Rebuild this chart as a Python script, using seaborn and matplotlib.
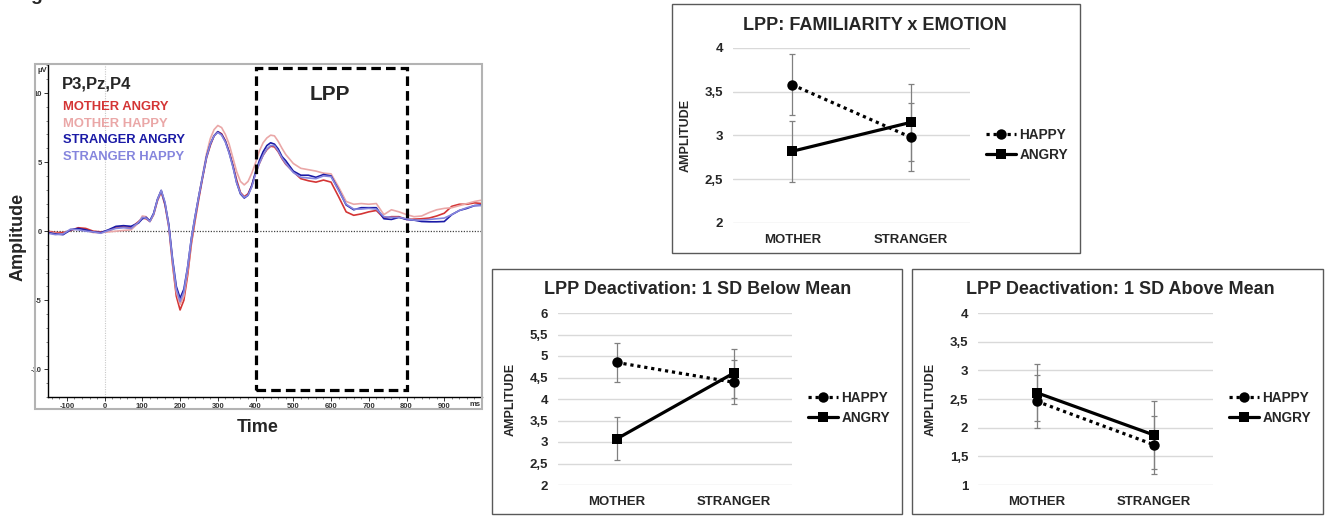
import matplotlib
matplotlib.use('Agg')
import matplotlib.pyplot as plt
from matplotlib.patches import Rectangle
from matplotlib.lines import Line2D
from matplotlib.ticker import MultipleLocator, FuncFormatter
import seaborn as sns
import pandas as pd

# ERP waveforms (P3, Pz, P4 average)
time_ms = ([-150, -130, -110, -90, -70, -50, -30, -10, 10, 30, 50, 70, 90]
           + list(range(100, 490, 10)) + list(range(500, 1010, 20)))

mother_angry = [0.0, -0.1, -0.1, 0.05, 0.25, 0.2, 0.0, -0.05, 0.0, 0.3, 0.3, 0.25, 0.7,
                0.95, 0.9, 0.7, 1.2, 2.2, 2.85, 1.9, 0.3, -2.4, -4.7,
                -5.7, -5.0, -3.2, -0.9, 0.8, 2.4, 3.9, 5.3, 6.2, 6.9,
                7.2, 7.05, 6.55, 5.75, 4.8, 3.7, 2.8, 2.5, 2.7, 3.3,
                4.2, 4.9, 5.5, 5.9, 6.15, 6.1, 5.75, 5.25, 4.85,
                4.3, 3.8, 3.65, 3.55, 3.7, 3.55, 2.5, 1.4, 1.15, 1.25, 1.4, 1.5, 0.95,
                1.05, 1.05, 0.85, 0.87, 0.9, 0.95, 1.1, 1.3, 1.8, 1.95, 1.95, 2.05, 2.0]
mother_happy = [-0.05, -0.15, -0.2, 0.1, 0.15, 0.05, -0.1, -0.1, -0.05, 0.0, 0.05, 0.1, 0.6,
                1.1, 1.05, 0.7, 1.25, 2.25, 2.9, 2.0, 0.4, -2.2, -4.4,
                -5.3, -4.7, -2.9, -0.7, 1.0, 2.6, 4.1, 5.6, 6.7, 7.35,
                7.65, 7.5, 7.0, 6.3, 5.3, 4.3, 3.6, 3.35, 3.6, 4.2,
                4.95, 5.8, 6.4, 6.75, 6.95, 6.9, 6.5, 6.0, 5.55,
                4.9, 4.55, 4.45, 4.35, 4.2, 4.15, 3.2, 2.15, 1.95, 2.0, 1.95, 2.0, 1.2,
                1.55, 1.4, 1.2, 1.05, 1.1, 1.35, 1.55, 1.65, 1.7, 1.85, 2.0, 2.15, 2.25]
stranger_angry = [-0.1, -0.2, -0.25, 0.1, 0.2, 0.1, -0.05, -0.1, 0.1, 0.35, 0.4, 0.35, 0.6,
                  0.9, 1.0, 0.75, 1.3, 2.3, 2.95, 2.0, 0.5, -2.0, -4.0,
                  -4.85, -4.2, -2.6, -0.5, 1.1, 2.6, 4.0, 5.4, 6.3, 6.9,
                  7.2, 7.0, 6.5, 5.7, 4.7, 3.5, 2.7, 2.4, 2.6, 3.3,
                  4.3, 5.1, 5.75, 6.2, 6.4, 6.3, 5.95, 5.4, 5.1,
                  4.35, 4.05, 4.05, 3.9, 4.1, 4.0, 3.0, 1.9, 1.55, 1.7, 1.7, 1.7, 0.9,
                  0.85, 1.0, 0.85, 0.8, 0.7, 0.68, 0.68, 0.7, 1.2, 1.5, 1.65, 1.85, 1.9]
stranger_happy = [-0.15, -0.25, -0.2, 0.15, 0.1, 0.0, -0.05, -0.15, 0.05, 0.2, 0.25, 0.2, 0.65,
                  1.0, 0.95, 0.7, 1.25, 2.3, 2.95, 2.1, 0.4, -2.1, -4.2,
                  -5.1, -4.4, -2.6, -0.5, 1.1, 2.6, 4.0, 5.35, 6.3, 6.9,
                  7.15, 6.95, 6.45, 5.65, 4.65, 3.5, 2.75, 2.45, 2.6, 3.2,
                  4.15, 4.9, 5.5, 5.95, 6.2, 6.2, 5.8, 5.3, 4.9,
                  4.25, 3.9, 3.85, 3.8, 4.0, 3.95, 2.95, 1.95, 1.6, 1.6, 1.65, 1.6, 1.05,
                  1.0, 1.0, 0.9, 0.8, 0.8, 0.85, 0.9, 0.95, 1.2, 1.5, 1.7, 1.85, 1.85]

conditions = ['MOTHER ANGRY', 'MOTHER HAPPY', 'STRANGER ANGRY', 'STRANGER HAPPY']
cond_colors = ['#d43535', '#eaa7a7', '#1a1aa6', '#8585dd']

# interaction plots (means and error bars)
familiarity = ['MOTHER', 'STRANGER']
emotions = ['HAPPY', 'ANGRY']

fam_happy, fam_happy_err = [3.58, 2.98], [0.35, 0.39]
fam_angry, fam_angry_err = [2.82, 3.15], [0.35, 0.44]
below_happy, below_happy_err = [4.85, 4.39], [0.46, 0.51]
below_angry, below_angry_err = [3.07, 4.60], [0.50, 0.57]
above_happy, above_happy_err = [2.46, 1.70], [0.46, 0.51]
above_angry, above_angry_err = [2.61, 1.87], [0.50, 0.59]

sns.set_theme(style='white')
plt.rcParams['font.family'] = ['Liberation Sans', 'DejaVu Sans']
plt.rcParams['axes.unicode_minus'] = False

W, H = 1330, 518
fig = plt.figure(figsize=(13.3, 5.18), dpi=100)


def px_rect(x0, y0, x1, y1):
    # pixel box (top-left origin) -> figure fraction rect
    return [x0 / W, 1 - y1 / H, (x1 - x0) / W, (y1 - y0) / H]


def frame(x0, y0, x1, y1, color, lw):
    r = px_rect(x0, y0, x1, y1)
    fig.add_artist(Rectangle((r[0], r[1]), r[2], r[3], transform=fig.transFigure,
                             fill=False, edgecolor=color, linewidth=lw))


# ---------- ERP panel ----------
frame(35, 64, 482, 409, '#b3b3b3', 1.5)
ax = fig.add_axes(px_rect(48, 64, 482, 397))
erp = pd.DataFrame({
    'time': time_ms * 4,
    'amplitude': mother_angry + mother_happy + stranger_angry + stranger_happy,
    'condition': sum([[c] * len(time_ms) for c in conditions], []),
})
ax.axhline(0, color='#444444', lw=0.9, ls=(0, (1, 1.2)), zorder=1)
ax.axvline(0, color='#c8c8c8', lw=0.8, ls=(0, (1, 1.2)), zorder=1)
sns.lineplot(data=erp, x='time', y='amplitude', hue='condition', hue_order=conditions,
             palette=cond_colors, linewidth=1.2, estimator=None, legend=False, ax=ax)
ax.set_xlim(-150, 1000)
ax.set_ylim(-12, 12.1)
ax.add_patch(Rectangle((400, -11.5), 400, 23.3, fill=False, edgecolor='black',
                       linewidth=2.3, linestyle=(0, (3, 1.6)), zorder=5))
ax.set_xticks(range(-100, 1000, 100))
ax.set_yticks([-10, -5, 0, 5, 10])
ax.xaxis.set_minor_locator(MultipleLocator(20))
ax.yaxis.set_minor_locator(MultipleLocator(1))
ax.tick_params(axis='both', which='major', length=3, width=0.7, labelsize=5.5,
               pad=1.5, colors='#333333', direction='out')
ax.tick_params(axis='both', which='minor', length=1.5, width=0.5, colors='#555555')
ax.tick_params(axis='x', bottom=True, which='both')
ax.tick_params(axis='y', left=True, which='both')
for lab in ax.get_xticklabels() + ax.get_yticklabels():
    lab.set_fontweight('bold')
ax.set_xlabel('')
ax.set_ylabel('')
for s in ['top', 'right']:
    ax.spines[s].set_visible(False)
for s in ['left', 'bottom']:
    ax.spines[s].set_color('black')
    ax.spines[s].set_linewidth(1.0)
ax.text(0.985, -0.012, 'ms', transform=ax.transAxes, ha='center', va='top',
        fontsize=5.5, fontweight='bold', color='#333333')
fig.text(37 / W, 1 - 70 / H, 'µV', fontsize=5.5, fontweight='bold', color='#333333',
         ha='left', va='center')

fig.text(62 / W, 1 - 84 / H, 'P3,Pz,P4', fontsize=12, fontweight='bold', va='center')
for i, (c, col) in enumerate(zip(conditions, cond_colors)):
    fig.text(63 / W, 1 - (107 + 16.7 * i) / H, c, fontsize=9.4, fontweight='bold',
             color=col, va='center')
fig.text(330 / W, 1 - 94 / H, 'LPP', fontsize=15, fontweight='bold', ha='center', va='center')
fig.text(18 / W, 1 - 237 / H, 'Amplitude', rotation=90, fontsize=13, fontweight='bold',
         ha='center', va='center')
fig.text(258 / W, 1 - 427 / H, 'Time', fontsize=13, fontweight='bold', ha='center', va='center')
fig.text(30 / W, 1.0, 'g', fontsize=14, fontweight='bold', ha='left', va='baseline')


# ---------- interaction panels ----------
comma = FuncFormatter(lambda v, p: f'{v:g}'.replace('.', ','))


def interaction_panel(box, area, title, title_x, happy, happy_err, angry, angry_err,
                      ylim, legend_y):
    frame(*box, '#595959', 1.0)
    ax = fig.add_axes(px_rect(*area))
    df = pd.DataFrame({'group': familiarity * 2, 'amp': happy + angry,
                       'emotion': ['HAPPY'] * 2 + ['ANGRY'] * 2})
    sns.pointplot(data=df, x='group', y='amp', hue='emotion', hue_order=emotions,
                  palette=['black', 'black'], markers=['o', 's'], linestyles=[(0, (1, 1.2)), '-'],
                  errorbar=None, markersize=7.5, markeredgewidth=0, linewidth=2.3,
                  legend=False, ax=ax)
    for vals, errs in ((happy, happy_err), (angry, angry_err)):
        ax.errorbar([0, 1], vals, yerr=errs, fmt='none', ecolor='#808080', elinewidth=0.9,
                    capsize=2.5, capthick=0.9, zorder=1.5)
    ax.set_xlim(-0.5, 1.5)
    ax.set_ylim(*ylim)
    ax.set_yticks([ylim[0] + 0.5 * k for k in range(int(round((ylim[1] - ylim[0]) / 0.5)) + 1)])
    ax.yaxis.set_major_formatter(comma)
    ax.grid(axis='y', color='#d9d9d9', linewidth=1.0)
    ax.grid(axis='x', visible=False)
    ax.set_axisbelow(True)
    for s in ax.spines.values():
        s.set_visible(False)
    ax.tick_params(axis='both', length=0, labelsize=9.5)
    ax.tick_params(axis='y', pad=7)
    ax.tick_params(axis='x', pad=8)
    for lab in ax.get_xticklabels() + ax.get_yticklabels():
        lab.set_fontweight('bold')
    ax.set_xlabel('')
    ax.set_ylabel('AMPLITUDE', fontsize=9, fontweight='bold')
    ax.yaxis.set_label_coords(-41 / (area[2] - area[0]), 0.5)
    handles = [Line2D([], [], color='black', ls=(0, (1, 1.2)), lw=2.3, marker='o', ms=7.5, mew=0),
               Line2D([], [], color='black', ls='-', lw=2.3, marker='s', ms=7.5, mew=0)]
    ax.legend(handles, emotions, loc='center left',
              bbox_to_anchor=(1 + 16 / (area[2] - area[0]), legend_y), frameon=False,
              borderaxespad=0, borderpad=0, handlelength=2.2, handletextpad=0.25,
              labelspacing=0.45, prop={'weight': 'bold', 'size': 9.8})
    fig.text(title_x / W, 1 - (box[1] + 21) / H, title, fontsize=13, fontweight='bold',
             ha='center', va='center')


interaction_panel((672, 4, 1080, 253), (733, 48, 970, 223), 'LPP: FAMILIARITY x EMOTION', 875,
                  fam_happy, fam_happy_err, fam_angry, fam_angry_err, (2, 4), 0.446)
interaction_panel((492, 269, 902, 514), (558, 313, 792, 485), 'LPP Deactivation: 1 SD Below Mean',
                  698, below_happy, below_happy_err, below_angry, below_angry_err, (2, 6), 0.45)
interaction_panel((912, 269, 1323, 514), (978, 313, 1213, 485), 'LPP Deactivation: 1 SD Above Mean',
                  1120, above_happy, above_happy_err, above_angry, above_angry_err, (1, 4), 0.45)

fig.savefig('out.png', dpi=100)
